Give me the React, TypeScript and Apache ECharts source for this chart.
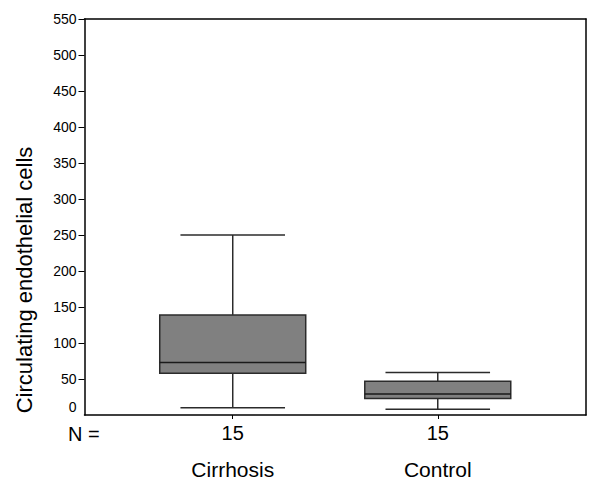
import React, { useEffect, useRef } from "react";
import * as echarts from "echarts";

const categories = ["Cirrhosis", "Control"];
const nLabels = ["15", "15"];
// [lowerWhisker, q1, median, q3, upperWhisker]
const cirrhosis = [10, 58, 73, 139, 250];
const control = [8, 23, 29, 47, 59];
const boxData = [cirrhosis, control];
const yTicks = [0, 50, 100, 150, 200, 250, 300, 350, 400, 450, 500, 550];

const FONT = "Liberation Sans, Arial, sans-serif";
const X_MIN = 0.277;
const X_MAX = 2.723;

export default function App() {
  const ref = useRef<HTMLDivElement>(null);
  useEffect(() => {
    if (!ref.current) return;
    const chart = echarts.init(ref.current, undefined, { renderer: "svg" });
    const seriesData = boxData.map((d, i) => [i + 1, ...d]);
    const frameX = {
      type: "value",
      min: X_MIN,
      max: X_MAX,
      position: "top",
      splitLine: { show: false },
      axisLine: { show: true, lineStyle: { color: "#000", width: 1.5 } },
      axisTick: { show: false },
      axisLabel: { show: false },
    };
    chart.setOption({
      animation: false,
      grid: {
        left: 84.5,
        right: 14,
        top: 19,
        bottom: 68,
      },
      xAxis: [
        {
          type: "value",
          min: X_MIN,
          max: X_MAX,
          position: "bottom",
          splitLine: { show: false },
          axisLine: { show: true, lineStyle: { color: "#000", width: 1.5 } },
          axisTick: {
            show: true,
            length: 4,
            lineStyle: { color: "#000" },
            customValues: [1, 2],
          },
          axisLabel: {
            customValues: [1, 2],
            formatter: (v: number) => nLabels[Math.round(v) - 1] ?? "",
            fontSize: 20,
            fontFamily: FONT,
            color: "#000",
            margin: 8,
          },
        },
        {
          type: "value",
          min: X_MIN,
          max: X_MAX,
          position: "bottom",
          offset: 36,
          splitLine: { show: false },
          axisLine: { show: false },
          axisTick: { show: false },
          axisLabel: {
            customValues: [1, 2],
            formatter: (v: number) => categories[Math.round(v) - 1] ?? "",
            fontSize: 21,
            fontFamily: FONT,
            color: "#000",
            margin: 8,
          },
        },
        frameX,
      ],
      yAxis: [
        {
          type: "value",
          min: 0,
          max: 550,
          position: "left",
          splitLine: { show: false },
          axisLine: { show: true, lineStyle: { color: "#000", width: 1.5 } },
          axisTick: {
            show: true,
            length: 6,
            lineStyle: { color: "#000" },
            customValues: yTicks.slice(1),
          },
          axisLabel: {
            customValues: yTicks,
            fontSize: 14,
            fontFamily: FONT,
            color: "#000",
            margin: 8,
            formatter: (v: number) => (v === 0 ? "{z|0}" : String(v)),
            rich: {
              z: { fontSize: 14, fontFamily: FONT, color: "#000", padding: [0, 0, 16, 0] },
            },
          },
        },
        {
          type: "value",
          min: 0,
          max: 550,
          position: "right",
          splitLine: { show: false },
          axisLine: { show: true, lineStyle: { color: "#000", width: 1.5 } },
          axisTick: { show: false },
          axisLabel: { show: false },
        },
      ],
      graphic: [
        {
          type: "text",
          x: 24,
          y: 280,
          rotation: Math.PI / 2,
          style: {
            text: "Circulating endothelial cells",
            font: `22px ${FONT}`,
            fill: "#000",
            textAlign: "center",
            textVerticalAlign: "middle",
          },
        },
        {
          type: "text",
          x: 68,
          y: 434,
          style: {
            text: "N =",
            font: `20px ${FONT}`,
            fill: "#000",
            textAlign: "left",
            textVerticalAlign: "middle",
          },
        },
      ],
      series: [
        {
          type: "custom",
          xAxisIndex: 0,
          yAxisIndex: 0,
          data: seriesData,
          encode: { x: 0, y: [1, 2, 3, 4, 5] },
          renderItem: (params: any, api: any) => {
            const x = api.value(0);
            const lo = api.value(1);
            const q1 = api.value(2);
            const med = api.value(3);
            const q3 = api.value(4);
            const hi = api.value(5);
            const halfBox = 0.356;
            const halfCap = 0.255;
            const pLo = api.coord([x, lo]);
            const pQ1 = api.coord([x, q1]);
            const pMed = api.coord([x, med]);
            const pQ3 = api.coord([x, q3]);
            const pHi = api.coord([x, hi]);
            const left = api.coord([x - halfBox, q1])[0];
            const right = api.coord([x + halfBox, q1])[0];
            const capL = api.coord([x - halfCap, q1])[0];
            const capR = api.coord([x + halfCap, q1])[0];
            const lineStyle = { stroke: "#2b2b2b", lineWidth: 1.5 };
            return {
              type: "group",
              children: [
                { type: "line", shape: { x1: pHi[0], y1: pHi[1], x2: pQ3[0], y2: pQ3[1] }, style: lineStyle },
                { type: "line", shape: { x1: pLo[0], y1: pLo[1], x2: pQ1[0], y2: pQ1[1] }, style: lineStyle },
                { type: "line", shape: { x1: capL, y1: pHi[1], x2: capR, y2: pHi[1] }, style: lineStyle },
                { type: "line", shape: { x1: capL, y1: pLo[1], x2: capR, y2: pLo[1] }, style: lineStyle },
                {
                  type: "rect",
                  shape: { x: left, y: pQ3[1], width: right - left, height: pQ1[1] - pQ3[1] },
                  style: { fill: "#808080", stroke: "#2b2b2b", lineWidth: 1.5 },
                },
                { type: "line", shape: { x1: left, y1: pMed[1], x2: right, y2: pMed[1] }, style: { stroke: "#1a1a1a", lineWidth: 1.5 } },
              ],
            };
          },
        },
      ],
    });
    return () => chart.dispose();
  }, []);
  return (
    <div
      ref={ref}
      style={{ position: "fixed", left: 0, top: 0, width: 600, height: 483, background: "#fff" }}
    />
  );
}
